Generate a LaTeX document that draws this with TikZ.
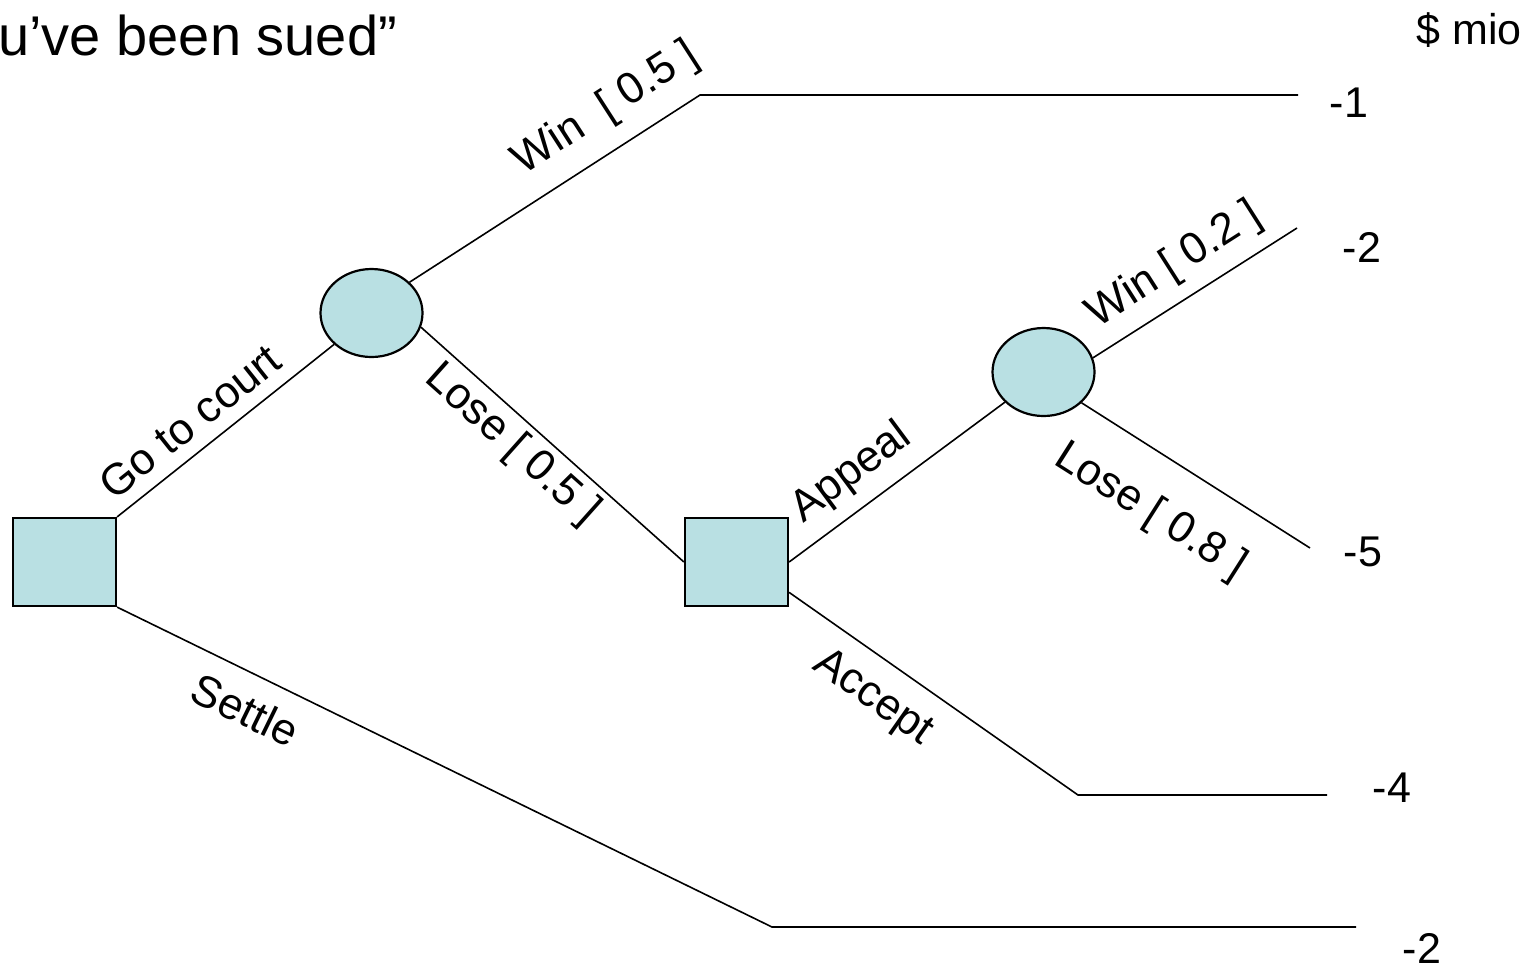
\documentclass[tikz,border=0pt]{standalone}
\usepackage{fontspec}
\setmainfont{Liberation Sans}
\usetikzlibrary{shapes.geometric}
\definecolor{nodefill}{RGB}{185,224,227}
\tikzset{
    decision/.style={draw,line width=1.1pt,fill=nodefill,rectangle,minimum width=51.5pt,minimum height=44pt,inner sep=0pt},
    chance/.style={draw,line width=1.1pt,fill=nodefill,ellipse,minimum width=51pt,minimum height=44pt,inner sep=0pt},
    branch/.style={line width=0.8pt},
    lbl/.style={sloped,inner sep=0pt,font=\fontsize{22}{26}\selectfont},
    payoff/.style={inner sep=0pt,font=\fontsize{21.5}{26}\selectfont}
}
\begin{document}
\begin{tikzpicture}[x=0.5pt,y=-0.5pt]
    \useasboundingbox (0,0) rectangle (1534,966);
    \node[anchor=base west,inner sep=0pt,font=\fontsize{28}{33}\selectfont] (title) at (-2,55) {u’ve been sued”};
    \node[anchor=base west,inner sep=0pt,font=\fontsize{21.5}{26}\selectfont] (unit) at (1416,44) {\$ mio};
    % decision and chance nodes
    \node[decision] (sq1) at (64.5,562) {};
    \node[chance] (ch1) at (371.5,313) {};
    \node[decision] (sq2) at (736.5,562) {};
    \node[chance] (ch2) at (1043.5,372) {};
    % branch ends
    \coordinate (w1) at (700,95);
    \coordinate (e1) at (1298,95);
    \coordinate (e2) at (1297,228);
    \coordinate (e3) at (1310,548);
    \coordinate (a1) at (1078,795);
    \coordinate (e4) at (1327,795);
    \coordinate (s1) at (772,927);
    \coordinate (e5) at (1356,927);
    \draw[branch] (sq1.north east) -- node[lbl,above=6.5pt,pos=.42] {Go to court} (ch1.220);
    \draw[branch] (sq1.south east) -- node[lbl,below=9.5pt,pos=.22] {Settle} (s1) -- (e5);
    \draw[branch] (ch1.39) -- node[lbl,above=9pt,pos=.75] {Win\ \ [ 0.5 ]} (w1) -- (e1);
    \draw[branch] (ch1.-16.5) -- node[lbl,below=3pt,pos=.415] {Lose [ 0.5 ]} (sq2.west);
    \draw[branch] (sq2.east) -- node[lbl,above=6.5pt,pos=.384] {Appeal} (ch2.218);
    \draw[branch] (sq2.-30) -- node[lbl,below=9pt,pos=.366] {Accept} (a1) -- (e4);
    \draw[branch] (ch2.16.5) -- node[lbl,above=6.5pt,pos=.49] {Win [ 0.2 ]} (e2);
    \draw[branch] (ch2.-39.6) -- node[lbl,below=17pt,pos=.43] {Lose [ 0.8 ]} (e3);
    % payoffs
    \foreach \n/\x/\y/\v in {1/1349/103/-1,2/1362/247/-2,3/1363/552/-5,4/1392/788/-4,5/1422/948/-2}
        \node[payoff] (p\n) at (\x,\y) {\v};
\end{tikzpicture}
\end{document}
